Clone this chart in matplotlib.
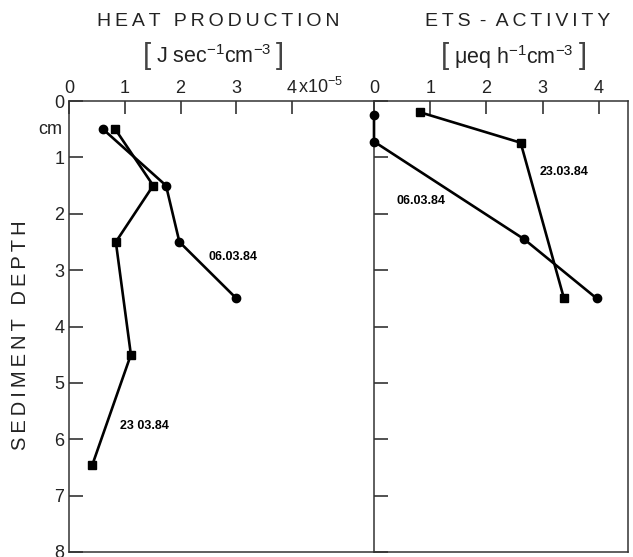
import matplotlib
matplotlib.use("Agg")
import matplotlib.pyplot as plt
import matplotlib.transforms as mtransforms

plt.rcParams['font.family'] = ['Liberation Sans', 'DejaVu Sans']
plt.rcParams['mathtext.fontset'] = 'custom'
plt.rcParams['mathtext.rm'] = 'Liberation Sans'
plt.rcParams['mathtext.default'] = 'regular'

# ---- data ----
heat_depth_0603 = [0.5, 1.5, 2.5, 3.5]
heat_val_0603 = [0.61, 1.74, 1.98, 3.0]
heat_depth_2303 = [0.5, 1.5, 2.5, 4.5, 6.45]
heat_val_2303 = [0.83, 1.51, 0.84, 1.11, 0.42]

ets_depth_0603 = [0.25, 0.72, 2.45, 3.5]
ets_val_0603 = [0.0, 0.0, 2.67, 3.96]
ets_depth_2303 = [0.2, 0.74, 3.5]
ets_val_2303 = [0.82, 2.61, 3.38]

heat_ticks = [0, 1, 2, 3, 4]
ets_ticks = [0, 1, 2, 3, 4]
depth_ticks = [0, 1, 2, 3, 4, 5, 6, 7, 8]

fig = plt.figure(figsize=(6.33, 5.57), dpi=100)
W, H = 633, 557
def rect(x0, y0, x1, y1):
    return [x0 / W, 1 - y1 / H, (x1 - x0) / W, (y1 - y0) / H]

ax1 = fig.add_axes(rect(69, 101, 374, 552))
ax2 = fig.add_axes(rect(374, 101, 628, 552))

TC = '#222222'
lw = 1.9
for ax in (ax1, ax2):
    ax.set_ylim(8, 0)
    for s in ax.spines.values():
        s.set_linewidth(1.1)
        s.set_color('#333333')
    ax.xaxis.tick_top()
    ax.tick_params(axis='x', direction='in', length=9, width=1.1,
                   labelsize=13, pad=3, colors=TC)
    ax.tick_params(axis='y', direction='in', length=10, width=1.1,
                   labelsize=13, colors=TC)

# Heat production panel
ax1.set_xlim(0, 5.47)
ax1.plot(heat_val_0603, heat_depth_0603, color='black', lw=lw,
         marker='o', ms=6)
ax1.plot(heat_val_2303, heat_depth_2303, color='black', lw=lw,
         marker='s', ms=6)
ax1.set_xticks(heat_ticks)
ax1.set_xticklabels([str(t) for t in heat_ticks])
ax1.set_yticks(depth_ticks)
ax1.set_yticklabels([str(t) for t in depth_ticks])
ax1.spines['right'].set_visible(False)
tr = mtransforms.offset_copy(ax1.get_xaxis_transform(), fig=fig,
                             x=0, y=3, units='points')
ax1.text(4.11, 1.0, r'x10$^{-5}$', fontsize=13, ha='left', va='bottom',
         color=TC, transform=tr, clip_on=False)
ax1.text(-0.12, 0.5, 'cm', fontsize=13, ha='right', va='center',
         color=TC, clip_on=False)
ax1.text(2.94, 2.77, '06.03.84', fontsize=9, fontweight='bold',
         ha='center', va='center')
ax1.text(1.35, 5.76, '23 03.84', fontsize=9, fontweight='bold',
         ha='center', va='center')

# ETS panel
ax2.set_xlim(0, 4.52)
ax2.plot(ets_val_0603, ets_depth_0603, color='black', lw=lw,
         marker='o', ms=6, clip_on=False, zorder=5)
ax2.plot(ets_val_2303, ets_depth_2303, color='black', lw=lw,
         marker='s', ms=6)
ax2.set_xticks(ets_ticks)
ax2.set_xticklabels([str(t) for t in ets_ticks])
ax2.set_yticks(depth_ticks)
ax2.set_yticklabels([])
ax2.text(3.38, 1.26, '23.03.84', fontsize=9, fontweight='bold',
         ha='center', va='center')
ax2.text(0.84, 1.77, '06.03.84', fontsize=9, fontweight='bold',
         ha='center', va='center')

def spaced(s):
    return '\u2009'.join(s).replace('\u2009 \u2009', '\u2009\u2009 ')

def figtext(x, y, s, **kw):
    fig.text(x / W, 1 - y / H, s, color=TC, ha='center', va='center', **kw)

# Titles
figtext(218, 21, spaced('HEAT PRODUCTION'), fontsize=14)
figtext(214, 57, r'J sec$^{-1}$cm$^{-3}$', fontsize=15.5)
figtext(518, 21, spaced('ETS-ACTIVITY').replace('-', ' - '), fontsize=14)
figtext(514, 57, r'$\mu$eq h$^{-1}$cm$^{-3}$', fontsize=15.5)
for x, b in ((147, '['), (280, ']'), (445, '['), (583, ']')):
    fig.text(x / W, 1 - 56 / H, b, color='#444444', ha='center',
             va='center', fontsize=21)
figtext(21, 335, spaced('SEDIMENT DEPTH'), fontsize=14.5, rotation=90)

fig.savefig('out.png', dpi=100)
